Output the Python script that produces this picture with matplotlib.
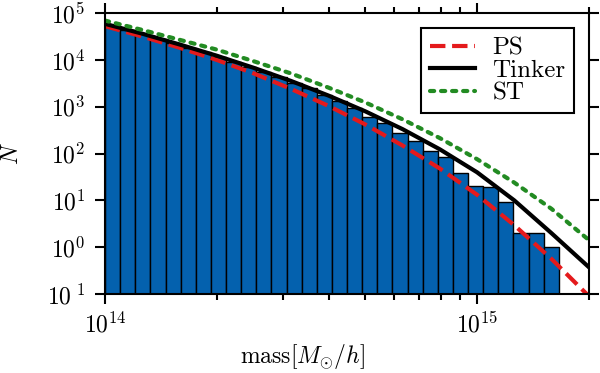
import matplotlib
matplotlib.use("Agg")
import matplotlib.pyplot as plt
import numpy as np

plt.rcParams['font.family'] = 'cmr10'
plt.rcParams['mathtext.fontset'] = 'cm'
plt.rcParams['axes.formatter.use_mathtext'] = True

# histogram: 32 log bins from 1e14 to 2e15, last two empty
counts = [53000, 43000, 35000, 28000, 23000, 18300, 14800, 11700, 9100, 7200,
          5500, 4250, 3250, 2450, 1800, 1340, 920, 610, 440, 270,
          187, 112, 83, 39, 20, 19, 9, 2, 2, 1]

# model curves (log10 mass, log10 N)
curve_logm = [14.0, 14.1, 14.2, 14.3, 14.4, 14.5, 14.6, 14.7, 14.8, 14.9,
              15.0, 15.1, 15.2, 15.301]
ps_logn = [4.72, 4.50, 4.26, 4.00, 3.71, 3.38, 3.02, 2.62, 2.17, 1.68,
           1.12, 0.47, -0.25, -1.05]
tinker_logn = [4.77, 4.56, 4.33, 4.09, 3.83, 3.55, 3.24, 2.90, 2.52, 2.09,
               1.60, 1.00, 0.30, -0.43]
st_logn = [4.84, 4.64, 4.43, 4.22, 3.97, 3.71, 3.41, 3.09, 2.73, 2.33,
           1.88, 1.38, 0.82, 0.15]

ytick_vals = [1e-1, 1e0, 1e1, 1e2, 1e3, 1e4, 1e5]
ytick_labels = [r'$10^{\ 1}$', r'$10^{0}$', r'$10^{1}$', r'$10^{2}$',
                r'$10^{3}$', r'$10^{4}$', r'$10^{5}$']
xtick_vals = [1e14, 1e15]
xtick_labels = [r'$10^{14}$', r'$10^{15}$']

edges = np.logspace(14, np.log10(2e15), 33)[:len(counts) + 1]
m = 10 ** np.array(curve_logm)

fig = plt.figure(figsize=(6, 3.73), dpi=100)
ax = fig.add_axes([0.175, 0.2118, 0.8067, 0.7532])

ax.bar(edges[:-1], counts, width=np.diff(edges), align='edge',
       color='#0461ae', edgecolor='black', linewidth=1.0)

ax.plot(m, 10 ** np.array(ps_logn), color='#e41a1c', ls='--', lw=3, label='PS')
ax.plot(m, 10 ** np.array(tinker_logn), color='black', ls='-', lw=3, label='Tinker')
ax.plot(m, 10 ** np.array(st_logn), color='#228b22', ls=':', lw=3,
        dash_capstyle='round', label='ST')

ax.set_xscale('log')
ax.set_yscale('log')
ax.set_xlim(1e14, 2e15)
ax.set_ylim(1e-1, 1e5)

ax.set_yticks(ytick_vals, ytick_labels)
ax.yaxis.set_minor_locator(matplotlib.ticker.NullLocator())
ax.set_xticks(xtick_vals, xtick_labels)
ax.xaxis.set_minor_locator(matplotlib.ticker.LogLocator(base=10, subs=np.arange(2, 10)))
ax.xaxis.set_minor_formatter(matplotlib.ticker.NullFormatter())

ax.tick_params(which='both', direction='out', top=True, right=True, labelsize=17)
ax.tick_params(which='major', length=7, width=1.5)
ax.tick_params(which='minor', length=4, width=1.5)
ax.tick_params(axis='y', pad=7)
ax.tick_params(axis='x', pad=6)
for s in ax.spines.values():
    s.set_linewidth(1.5)

ax.set_xlabel(r'$\mathrm{mass}[M_{\odot}/h]$', fontsize=17)
ax.xaxis.set_label_coords(0.409, -0.17)
ax.set_ylabel(r'$N$', fontsize=17)
ax.yaxis.set_label_coords(-0.17, 0.5)

leg = ax.legend(loc='upper right', fontsize=18, fancybox=False, framealpha=1,
                edgecolor='black', handlelength=1.8, handletextpad=0.7,
                labelspacing=0.0, borderpad=0.35, borderaxespad=0.6)
leg.get_frame().set_linewidth(1.5)

fig.savefig('out.png', dpi=100)
